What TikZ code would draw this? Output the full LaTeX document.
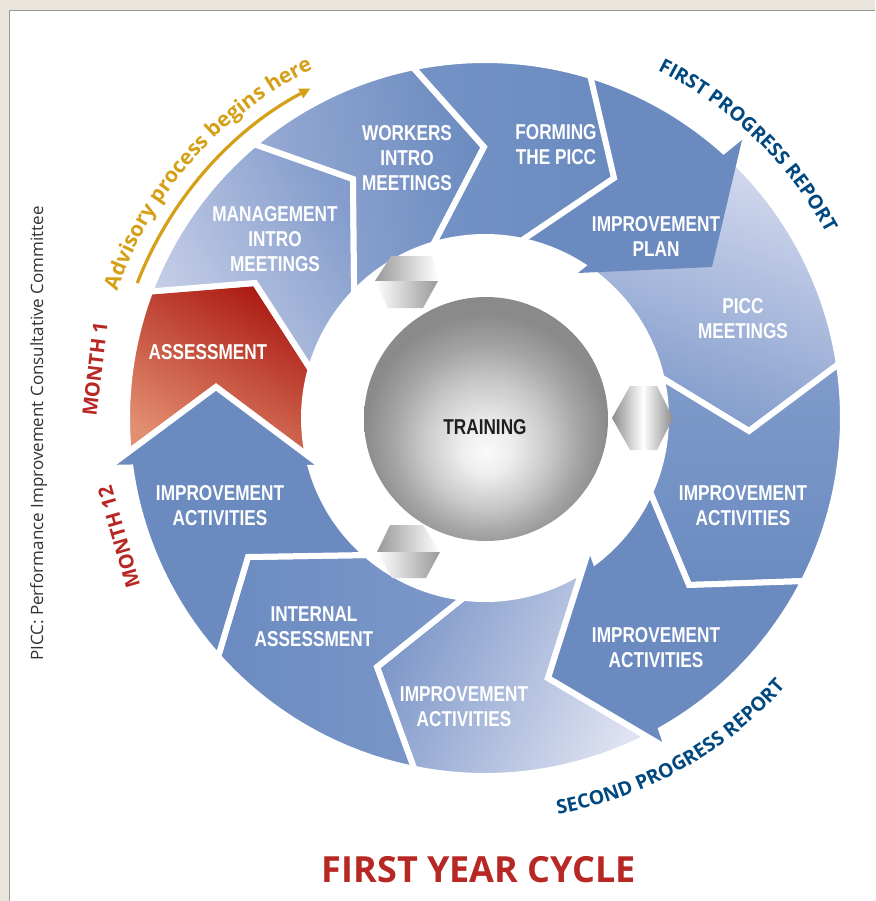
\documentclass[tikz,border=0pt]{standalone}
\usepackage{fontspec}
\usetikzlibrary{decorations.text,arrows.meta}
\newfontfamily\lblfont[FakeStretch=0.8]{Liberation Sans}
\newfontfamily\osfont{Open Sans}
\definecolor{beige}{RGB}{233,228,220}
\definecolor{bD}{RGB}{107,139,192}
\definecolor{mL}{RGB}{200,208,232}
\definecolor{mR}{RGB}{132,157,204}
\definecolor{wL}{RGB}{152,171,212}
\definecolor{fL}{RGB}{116,146,197}
\definecolor{pT}{RGB}{212,218,238}
\definecolor{pB}{RGB}{126,153,202}
\definecolor{iT}{RGB}{128,155,203}
\definecolor{btL}{RGB}{124,150,200}
\definecolor{btR}{RGB}{222,226,241}
\definecolor{inR}{RGB}{125,152,202}
\definecolor{rT}{RGB}{172,28,20}
\definecolor{rB}{RGB}{226,142,112}
\definecolor{gold}{RGB}{213,160,24}
\definecolor{rpblue}{RGB}{0,72,128}
\definecolor{mred}{RGB}{183,40,36}
\definecolor{sphA}{RGB}{250,250,250}
\definecolor{sphAA}{RGB}{238,238,238}
\definecolor{sphB}{RGB}{200,200,200}
\definecolor{sphBB}{RGB}{165,165,165}
\definecolor{sphC}{RGB}{138,138,138}
\pgfdeclareradialshading{spheresh}{\pgfpoint{0bp}{-7bp}}{color(0bp)=(sphA); color(5bp)=(sphAA); color(13bp)=(sphB); color(19bp)=(sphBB); color(25bp)=(sphC); color(50bp)=(sphC)}
\newcommand\advfmt{\osfont\bfseries\fontsize{21}{24}\selectfont\color{gold}}
\newcommand\bluefmt{\osfont\bfseries\fontsize{19.5}{24}\selectfont\color{rpblue}}
\begin{document}
\begin{tikzpicture}[x=1pt,y=-1pt,
  seg/.style={draw=white, line width=6pt, line join=miter},
  lbl/.style={text=white, font=\lblfont\bfseries\fontsize{21.5}{25}\selectfont, align=center, inner sep=0pt},
  redtxt/.style={text=mred, font=\osfont\bfseries\fontsize{20}{24}\selectfont, inner sep=0pt}]
\useasboundingbox (0,0) rectangle (875,901);
% background panel
\fill[beige] (0,0) rectangle (875,901);
\fill[white] (9,10) rectangle (875,901);
\draw[black!40, line width=0.8pt] (9,901) -- (9,10) -- (875,10);

% ring segments
\begin{scope}[shift={(485,418)}]
% Assessment
\path[seg, top color=rT, bottom color=rB, shading angle=-30]
 (174.57:358) arc[start angle=174.57, end angle=200.7, radius=358]
 -- (-230,-135) -- (195.6:181) arc[start angle=195.6, end angle=167.88, radius=181]
 -- (-269,-31) -- cycle;
% Management intro meetings
\path[seg, left color=mL, right color=mR, shading angle=120]
 (200.7:358) arc[start angle=200.7, end angle=229.9, radius=358]
 -- (-132,-239) -- (223.7:181) arc[start angle=223.7, end angle=195.6, radius=181]
 -- (-230,-135) -- cycle;
% Workers intro meetings
\path[seg, left color=wL, right color=bD, shading angle=100]
 (-130.1:358) arc[start angle=-130.1, end angle=-101.6, radius=358]
 -- (-1,-271) -- (-106.6:181) arc[start angle=-106.6, end angle=-136.3, radius=181]
 -- (-132,-239) -- cycle;
% PICC meetings
\path[seg, top color=pT, bottom color=pB, shading angle=-20]
 (-47.7:358) arc[start angle=-47.7, end angle=-8.7, radius=358]
 -- (264,13) -- (-12.9:181) arc[start angle=-12.9, end angle=-56.1, radius=181]
 -- cycle;
% Improvement plan (shaft and head)
\fill[bD] (-72.9:355) arc[start angle=-72.9, end angle=-46.8, radius=355]
 -- (-55.3:184) arc[start angle=-55.3, end angle=-78.4, radius=184]
 -- (129,-240) -- cycle;
\fill[bD] (257,-278) -- (227,-151) -- (93,-145) -- cycle;
% Forming the PICC
\path[seg, left color=fL, right color=bD]
 (-101.6:358) arc[start angle=-101.6, end angle=-72.9, radius=358]
 -- (129,-240) -- (-78.4:181) arc[start angle=-78.4, end angle=-106.6, radius=181]
 -- (-1,-271) -- cycle;
% Improvement activities (right)
\path[seg, top color=iT, bottom color=bD]
 (-8.7:358) arc[start angle=-8.7, end angle=27.1, radius=358]
 -- (204,167) -- (24.2:181) arc[start angle=24.2, end angle=-12.9, radius=181]
 -- (264,13) -- cycle;
% Improvement activities (bottom)
\path[seg, left color=btL, right color=btR, shading angle=65]
 (62.98:358) arc[start angle=62.98, end angle=101.4, radius=358]
 -- (-108,249) -- (96.8:181) arc[start angle=96.8, end angle=57.55, radius=181]
 -- (63,260) -- cycle;
% Improvement activities (lower right, arrow)
\path[seg, fill=bD]
 (27.1:358) arc[start angle=27.1, end angle=60.5, radius=358]
 -- (183,331) -- (63,260) -- (105,128) -- (52.4:181) arc[start angle=52.4, end angle=24.2, radius=181]
 -- (204,167) -- cycle;
% Internal assessment
\path[seg, left color=bD, right color=inR]
 (101.4:358) arc[start angle=101.4, end angle=138.2, radius=358]
 -- (-237,139) -- (130.8:181) arc[start angle=130.8, end angle=96.8, radius=181]
 -- (-108,249) -- cycle;
% Improvement activities (left, arrow)
\path[seg, fill=bD]
 (138.2:358) arc[start angle=138.2, end angle=172.05, radius=358]
 -- (-378,50) -- (-269,-31) -- (-161,50) -- (163.97:181) arc[start angle=163.97, end angle=130.8, radius=181]
 -- (-237,139) -- cycle;

% golden arrow and curved texts
\coordinate (advS) at (-158.8:373);
\draw[gold, line width=3.2pt, -{Triangle[length=11pt,width=10pt]}] (advS) arc[start angle=-158.8, end angle=-117.9, radius=373];
\path[decorate, decoration={text along path, text align=center, text={|\advfmt|Advisory process begins here}}]
 (-168.6:389) arc[start angle=-168.6, end angle=-108.6, radius=389];
\path[decorate, decoration={text along path, text align=center, text={|\bluefmt|FIRST PROGRESS REPORT}}]
 (-76:388) arc[start angle=-76, end angle=-16, radius=388];
\path[decorate, decoration={text along path, text align=center, text={|\bluefmt|SECOND PROGRESS REPORT}}]
 (90.7:403) arc[start angle=90.7, end angle=30.7, radius=403];
\end{scope}

% grey turning marks in the white ring
\shade[left color=black!45, right color=white] (612,418) -- (630,386) -- (643,386) -- (643,450) -- (630,450) -- cycle;
\shade[left color=white, right color=black!45] (643,386) -- (657,386) -- (673,418) -- (657,450) -- (643,450) -- cycle;
\shade[left color=black!40, right color=white] (391,256) -- (432,256) -- (438,281) -- (375,281) -- cycle;
\shade[left color=white, right color=black!40] (375,281) -- (438,281) -- (423,308) -- (388,308) -- cycle;
\shade[left color=black!40, right color=white] (390,525) -- (423,525) -- (440,552) -- (377,552) -- cycle;
\shade[left color=white, right color=black!40] (377,552) -- (440,552) -- (426,578) -- (392,578) -- cycle;

% centre sphere
\shade[shading=spheresh] (486,419) circle[radius=122];
\node[font=\lblfont\bfseries\fontsize{21.5}{25}\selectfont, text=black!88, inner sep=0pt] (train) at (485,427) {TRAINING};

% segment labels
\node[lbl] (assess) at (208,352) {ASSESSMENT};
\node[lbl] (mgmt) at (275,239) {MANAGEMENT\\INTRO\\MEETINGS};
\node[lbl] (work) at (407,158) {WORKERS\\INTRO\\MEETINGS};
\node[lbl] (form) at (556,145) {FORMING\\THE PICC};
\node[lbl] (plan) at (656,236) {IMPROVEMENT\\PLAN};
\node[lbl] (piccm) at (743,319) {PICC\\MEETINGS};
\node[lbl] (iar) at (743,506) {IMPROVEMENT\\ACTIVITIES};
\node[lbl] (ialr) at (656,648) {IMPROVEMENT\\ACTIVITIES};
\node[lbl] (iab) at (464,707) {IMPROVEMENT\\ACTIVITIES};
\node[lbl] (inta) at (314,627) {INTERNAL\\ASSESSMENT};
\node[lbl] (ial) at (220,506) {IMPROVEMENT\\ACTIVITIES};

% side texts
\node[redtxt, rotate=83] (m1) at (95,369) {MONTH 1};
\node[redtxt, rotate=106] (m12) at (119,537) {MONTH 12};
\node[font=\osfont\fontsize{17}{20}\selectfont, text=black!80, rotate=90, anchor=base, inner sep=0pt] (piccnote) at (43,433.5) {PICC: Performance Improvement Consultative Committee};
\node[font=\osfont\bfseries\fontsize{36}{40}\selectfont, text=mred, anchor=base, inner sep=0pt] (title) at (479,882) {FIRST YEAR CYCLE};
\end{tikzpicture}
\end{document}
